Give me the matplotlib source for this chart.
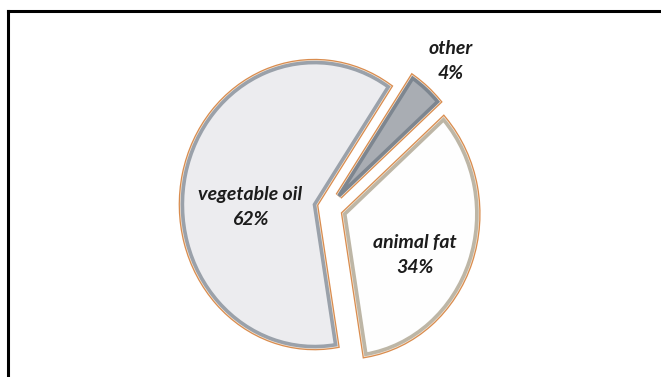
import matplotlib
matplotlib.use("Agg")
import matplotlib.pyplot as plt
import matplotlib.patheffects as pe
from matplotlib.lines import Line2D

# data (clockwise from the top-right)
labels = ["other", "animal fat", "vegetable oil"]
shares = [4, 34, 62]
fills = ["#a9adb3", "#fefefe", "#ececef"]
inner_edges = ["#7d8690", "#bdb6a6", "#9aa1aa"]
explode = [16, 18, 16]  # pie offsets, in pixels

# label positions in pixels (x, y from top)
label_xy = [(451, 61), (415, 255), (250, 207)]

sx = 0.93  # the pie is drawn a little taller than wide

fig = plt.figure(figsize=(6.61, 3.77), dpi=100)
ax = fig.add_axes([0, 0, 1, 1])

wedges, _ = ax.pie(shares, startangle=56, counterclock=False, explode=explode,
                   radius=142, center=(329 / sx, 169), colors=fills,
                   wedgeprops=dict(linewidth=2.6))
for w, ec in zip(wedges, inner_edges):
    w.set_edgecolor(ec)
    w.set_joinstyle("miter")
    w.set_path_effects([pe.Stroke(linewidth=5.4, foreground="#d98c4e"),
                        pe.Stroke(linewidth=3.6, foreground="#f4e3d2"),
                        pe.Normal()])

for lab, s, (x, y) in zip(labels, shares, label_xy):
    ax.text(x / sx, 377 - y, f"{lab}\n{s}%", ha="center", va="center",
            fontsize=14, fontfamily="Lato", fontweight="bold", fontstyle="italic",
            color="#1c1c1c", linespacing=1.6)

ax.set_aspect("auto")
ax.set_xlim(0, 661 / sx)
ax.set_ylim(0, 377)
ax.axis("off")

# frame lines (left and top only)
fig.add_artist(Line2D([8 / 661, 8 / 661], [0, 1 - 11 / 377], color="black", lw=2.2,
                      transform=fig.transFigure, solid_capstyle="projecting"))
fig.add_artist(Line2D([8 / 661, 1], [1 - 11 / 377, 1 - 11 / 377], color="black", lw=2.2,
                      transform=fig.transFigure, solid_capstyle="projecting"))

fig.savefig("out.png", dpi=100, facecolor="white")
